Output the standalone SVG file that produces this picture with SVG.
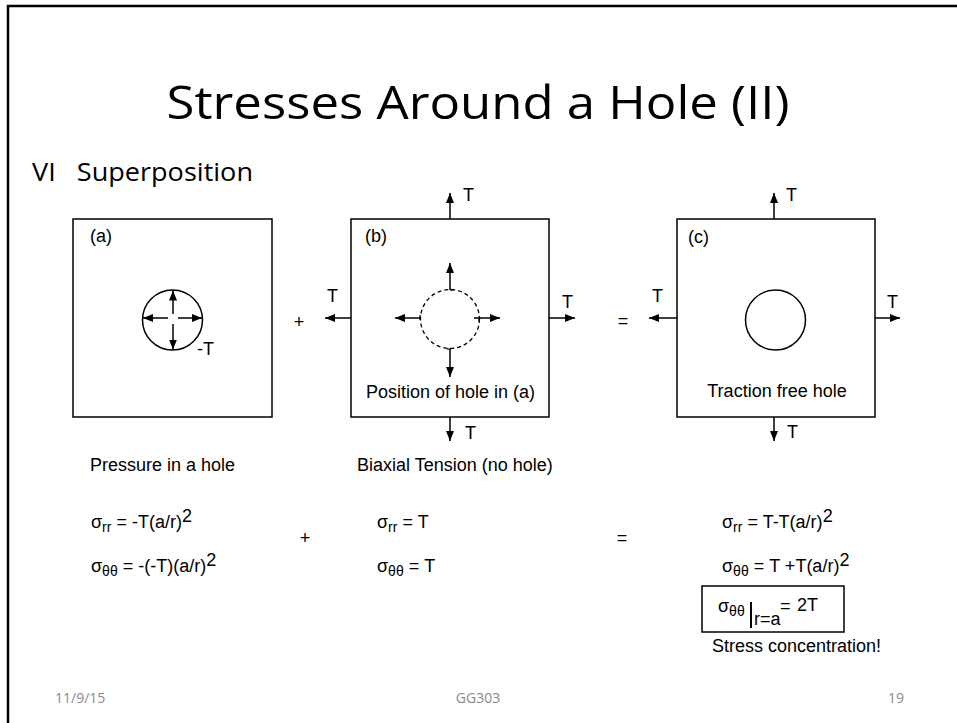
<svg xmlns="http://www.w3.org/2000/svg" width="957" height="723" viewBox="0 0 957 723">
<defs>
<marker id="ah" viewBox="0 0 10 8" refX="10" refY="4" markerWidth="10" markerHeight="8" markerUnits="userSpaceOnUse" orient="auto">
<path d="M0,0 L10,4 L0,8 z" fill="#000"/>
</marker>
<style>
.fr{fill:none;stroke:#000;stroke-width:1.5}
.ar{stroke:#000;stroke-width:1.5;fill:none;marker-end:url(#ah)}
.ln{stroke:#000;stroke-width:1.2;fill:none}
.t{font-family:"Liberation Sans",Arial,sans-serif;font-size:18px;fill:#000}
.s{font-size:14px}
.ttl{font-family:"Open Sans","Noto Sans",sans-serif;fill:#000}
.ft{font-family:"Open Sans","Noto Sans",sans-serif;font-size:14px;fill:#8a8a8a}
</style>
</defs>
<rect width="957" height="723" fill="#fff"/>
<path d="M8,723 V6 H957" fill="none" stroke="#000" stroke-width="2.5"/>

<g id="title">
<text class="ttl" x="478" y="119" font-size="46" text-anchor="middle" textLength="623" lengthAdjust="spacingAndGlyphs">Stresses Around a Hole (II)</text>
<text class="ttl" x="32" y="181" font-size="26" textLength="221" lengthAdjust="spacingAndGlyphs" xml:space="preserve">VI   Superposition</text>
</g>

<g id="panel-a">
<rect class="fr" x="73" y="219" width="199" height="198"/>
<text class="t" x="90" y="242">(a)</text>
<circle class="fr" cx="172.5" cy="320" r="30"/>
<line class="ar" x1="173" y1="314" x2="173" y2="290.5"/>
<line class="ar" x1="173" y1="324" x2="173" y2="349.5"/>
<line class="ar" x1="168" y1="318" x2="143" y2="318"/>
<line class="ar" x1="178" y1="318" x2="202" y2="318"/>
<text class="t" x="197" y="355">-T</text>
</g>

<g id="op1"><text class="t" x="299" y="328" text-anchor="middle" font-size="16">+</text></g>

<g id="panel-b">
<rect class="fr" x="351" y="219" width="198" height="198"/>
<text class="t" x="365" y="242">(b)</text>
<circle cx="450" cy="319" r="29.5" fill="none" stroke="#000" stroke-width="1.3" stroke-dasharray="4,3"/>
<line class="ar" x1="450" y1="290" x2="450" y2="263"/>
<line class="ln" x1="450" y1="290" x2="453" y2="290"/>
<line class="ar" x1="450" y1="349" x2="450" y2="377"/>
<line class="ln" x1="447" y1="349" x2="451" y2="349"/>
<line class="ar" x1="420" y1="318" x2="395" y2="318"/>
<line class="ln" x1="420" y1="315" x2="420" y2="320"/>
<line class="ar" x1="474" y1="318" x2="500" y2="318"/>
<line class="ln" x1="479" y1="317" x2="479" y2="322"/>
<line class="ar" x1="450" y1="219" x2="450" y2="193"/>
<line class="ar" x1="450" y1="417" x2="450" y2="441"/>
<line class="ar" x1="351" y1="318" x2="325" y2="318"/>
<line class="ar" x1="549" y1="318" x2="575" y2="318"/>
<text class="t" x="463" y="201">T</text>
<text class="t" x="465" y="439">T</text>
<text class="t" x="327" y="302">T</text>
<text class="t" x="562" y="308">T</text>
<text class="t" x="366" y="398">Position of hole in (a)</text>
</g>

<g id="op2"><text class="t" x="623" y="327" text-anchor="middle" font-size="16">=</text></g>

<g id="panel-c">
<rect class="fr" x="677" y="219" width="198" height="198"/>
<text class="t" x="688" y="243">(c)</text>
<circle class="fr" cx="775.5" cy="320" r="30"/>
<line class="ar" x1="774" y1="219" x2="774" y2="193"/>
<line class="ar" x1="774" y1="417" x2="774" y2="441"/>
<line class="ar" x1="677" y1="318" x2="649" y2="318"/>
<line class="ar" x1="875" y1="318" x2="900" y2="318"/>
<text class="t" x="786" y="201">T</text>
<text class="t" x="787" y="438">T</text>
<text class="t" x="652" y="302">T</text>
<text class="t" x="887" y="308">T</text>
<text class="t" x="777" y="397" text-anchor="middle">Traction free hole</text>
</g>

<g id="captions">
<text class="t" x="90" y="471">Pressure in a hole</text>
<text class="t" x="357" y="471">Biaxial Tension (no hole)</text>
</g>

<g id="eq-a">
<text class="t" x="91" y="528">σ<tspan class="s" dy="4">rr</tspan><tspan dy="-4"> = -T(a/r)</tspan><tspan dy="-6">2</tspan></text>
<text class="t" x="91" y="572">σ<tspan class="s" dy="4">θθ</tspan><tspan dy="-4"> = -(-T)(a/r)</tspan><tspan dy="-6">2</tspan></text>
</g>
<g id="op3"><text class="t" x="305" y="544" text-anchor="middle" font-size="16">+</text></g>
<g id="eq-b">
<text class="t" x="377" y="528">σ<tspan class="s" dy="4">rr</tspan><tspan dy="-4"> = T</tspan></text>
<text class="t" x="377" y="572">σ<tspan class="s" dy="4">θθ</tspan><tspan dy="-4"> = T</tspan></text>
</g>
<g id="op4"><text class="t" x="622" y="544" text-anchor="middle" font-size="16">=</text></g>
<g id="eq-c">
<text class="t" x="722" y="528">σ<tspan class="s" dy="4">rr</tspan><tspan dy="-4"> = T-T(a/r)</tspan><tspan dy="-6">2</tspan></text>
<text class="t" x="722" y="572">σ<tspan class="s" dy="4">θθ</tspan><tspan dy="-4"> = T +T(a/r)</tspan><tspan dy="-6">2</tspan></text>
</g>
<g id="result">
<rect class="fr" x="702" y="586" width="142" height="46"/>
<text class="t" x="718" y="612">σ<tspan class="s" dy="4">θθ</tspan></text>
<line x1="751" y1="602" x2="751" y2="628" stroke="#000" stroke-width="2"/>
<text class="t" x="754" y="625" font-size="11">r=a</text>
<text class="t" x="780" y="612">=</text>
<text class="t" x="797" y="611" font-size="19">2T</text>
<text class="t" x="712" y="652">Stress concentration!</text>
</g>

<g id="footer">
<text class="ft" x="55" y="703">11/9/15</text>
<text class="ft" x="478" y="703" text-anchor="middle">GG303</text>
<text class="ft" x="904" y="703" text-anchor="end">19</text>
</g>
</svg>
